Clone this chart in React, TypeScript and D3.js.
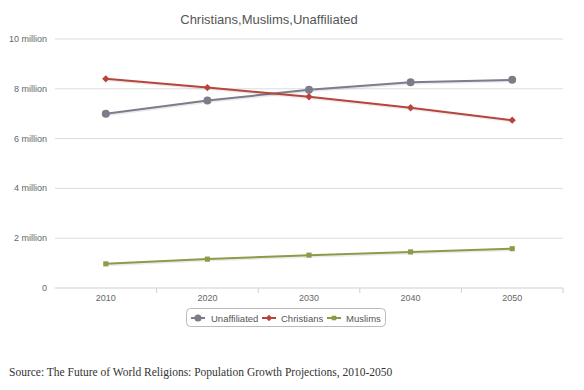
import React from 'react';
import * as d3 from 'd3';

// Population by year, millions
const years = ['2010', '2020', '2030', '2040', '2050'];
const unaffiliated = [7.0, 7.53, 7.96, 8.26, 8.36];
const christians = [8.4, 8.05, 7.68, 7.24, 6.74];
const muslims = [0.97, 1.16, 1.32, 1.45, 1.58];
const yTicks = [0, 2, 4, 6, 8, 10];

const seriesList = [
  { name: 'Unaffiliated', values: unaffiliated, color: '#7b7d8a', marker: 'circle' },
  { name: 'Christians', values: christians, color: '#b8453c', marker: 'diamond' },
  { name: 'Muslims', values: muslims, color: '#8d9a48', marker: 'square' },
];

const W = 584;
const H = 390;
const margin = { left: 55, right: 21, top: 39, bottom: 102 };

const App = () => {
  const x = d3.scaleBand().domain(years).range([margin.left, W - margin.right]);
  const y = d3.scaleLinear().domain([0, 10]).range([H - margin.bottom, margin.top]);
  const line = d3.line<number>()
    .x((_, i) => (x(years[i]) as number) + x.bandwidth() / 2)
    .y(d => y(d));

  const markerPath = (type: string, size: number) => {
    if (type === 'circle') return d3.symbol(d3.symbolCircle, size)();
    if (type === 'diamond') return d3.symbol(d3.symbolDiamond2, size)();
    return d3.symbol(d3.symbolSquare, size)();
  };
  const markerSize: Record<string, number> = { circle: 50, diamond: 34, square: 26 };

  // legend marker centre / text start
  const legendItems = [
    { x: 198, tx: 211 },
    { x: 269, tx: 281 },
    { x: 334, tx: 346 },
  ];

  return (
    <svg width={W} height={H} style={{ position: 'absolute', left: 0, top: 0, background: '#fff' }}
      fontFamily="'Liberation Sans', Arial, sans-serif">
      <text x={269} y={24} textAnchor="middle" fontSize={13} fill="#555">
        Christians,Muslims,Unaffiliated
      </text>

      {/* grid and y labels */}
      {yTicks.map(t => (
        <g key={t}>
          {t > 0 && <line x1={margin.left} x2={W - margin.right} y1={y(t)} y2={y(t)} stroke="#dcdcdc" strokeWidth={1} />}
          <text x={47} y={y(t) + 3} textAnchor="end" fontSize={9} fill="#666">
            {t === 0 ? '0' : `${t} million`}
          </text>
        </g>
      ))}

      {/* x axis */}
      <line x1={margin.left} x2={W - margin.right} y1={y(0)} y2={y(0)} stroke="#cfcfcf" />
      {years.map(yr => (
        <g key={yr}>
          <line x1={(x(yr) as number) + x.bandwidth()} x2={(x(yr) as number) + x.bandwidth()}
            y1={y(0)} y2={y(0) + 5} stroke="#cfcfcf" />
          <text x={(x(yr) as number) + x.bandwidth() / 2} y={y(0) + 13} textAnchor="middle" fontSize={9} fill="#666">
            {yr}
          </text>
        </g>
      ))}

      {/* series */}
      {seriesList.map(s => (
        <g key={s.name}>
          <path d={line(s.values) || ''} fill="none" stroke="#000" strokeOpacity={0.08} strokeWidth={3}
            transform="translate(1,1)" />
          <path d={line(s.values) || ''} fill="none" stroke={s.color} strokeWidth={2} />
          {s.values.map((v, i) => (
            <path key={i} d={markerPath(s.marker, markerSize[s.marker]) || ''} fill={s.color}
              transform={`translate(${(x(years[i]) as number) + x.bandwidth() / 2},${y(v)})`} />
          ))}
        </g>
      ))}

      {/* legend */}
      <rect x={186.5} y={308.5} width={199} height={18} rx={4} fill="#fff" stroke="#bbb" />
      {seriesList.map((s, i) => (
        <g key={s.name}>
          <line x1={legendItems[i].x - 7} x2={legendItems[i].x + 7} y1={318} y2={318} stroke={s.color} strokeWidth={2} />
          <path d={markerPath(s.marker, markerSize[s.marker] * 0.8) || ''} fill={s.color}
            transform={`translate(${legendItems[i].x},318)`} />
          <text x={legendItems[i].tx} y={321.5} fontSize={9.5} fill="#555">{s.name}</text>
        </g>
      ))}

      <text x={9} y={376} fontFamily="'Liberation Serif', 'Times New Roman', serif" fontSize={11.5} fill="#333">
        Source: The Future of World Religions: Population Growth Projections, 2010-2050
      </text>
    </svg>
  );
};

export default App;
